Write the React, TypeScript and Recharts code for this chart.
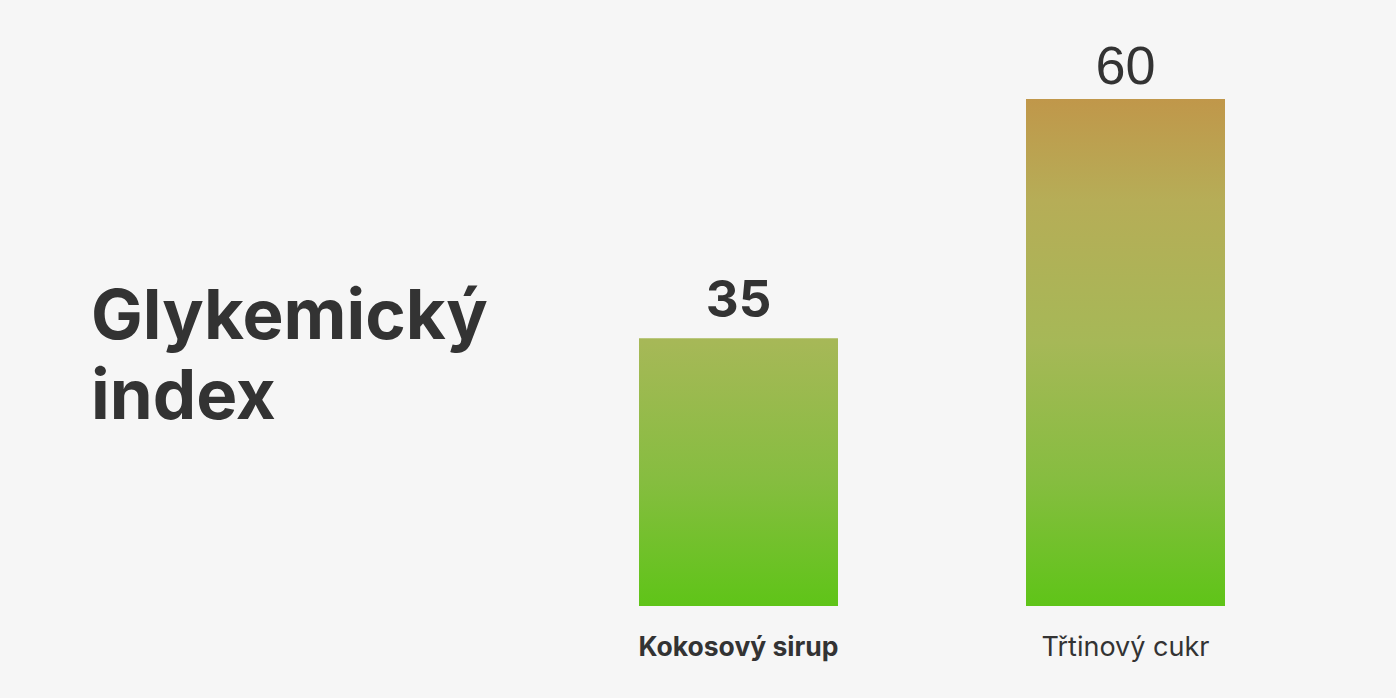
import React from 'react';
import { BarChart, Bar, XAxis, YAxis, LabelList } from 'recharts';

const categories = ['Kokosový sirup', 'Třtinový cukr'];
const glycemicValues = [35, 60];
const titleLines = ['Glykemický', 'index'];

const chartData = categories.map((name, i) => ({ name, gi: glycemicValues[i] }));

const INK = '#333333';

function CategoryTick({ x, y, payload, index }: any) {
  const bold = index === 0;
  return (
    <text
      x={x}
      y={y}
      dy={42}
      textAnchor="middle"
      fill={INK}
      fontFamily="Inter, 'Open Sans', sans-serif"
      fontWeight={bold ? 700 : 400}
      fontSize={bold ? 26.5 : 27}
    >
      {payload.value}
    </text>
  );
}

function ValueLabel({ x, y, width, value, index }: any) {
  const first = index === 0;
  return (
    <text
      x={x + width / 2}
      y={y}
      dy={first ? -21 : -15}
      textAnchor="middle"
      fill={INK}
      fontFamily={first ? "Inter, 'Open Sans', sans-serif" : "'Liberation Sans', Arial, sans-serif"}
      fontWeight={first ? 700 : 400}
      fontSize={first ? 51 : 54}
    >
      {value}
    </text>
  );
}

export default function App() {
  return (
    <div
      style={{
        position: 'fixed',
        left: 0,
        top: 0,
        width: 1396,
        height: 698,
        background: '#f6f6f6',
      }}
    >
      <div
        style={{
          position: 'absolute',
          left: 91,
          top: 274,
          fontFamily: "Inter, 'Open Sans', sans-serif",
          fontWeight: 700,
          fontSize: 69,
          lineHeight: '80px',
          color: INK,
        }}
      >
        {titleLines.map((line) => (
          <div key={line}>{line}</div>
        ))}
      </div>
      <BarChart
        width={1396}
        height={698}
        data={chartData}
        margin={{ top: 99, right: 77, left: 545, bottom: 0 }}
        barCategoryGap={94}
      >
        <defs>
          <linearGradient id="giFill" gradientUnits="userSpaceOnUse" x1="0" y1="99" x2="0" y2="606">
            <stop offset="0%" stopColor="#c0974a" />
            <stop offset="20%" stopColor="#b6ad57" />
            <stop offset="48%" stopColor="#a6b857" />
            <stop offset="75%" stopColor="#86bd40" />
            <stop offset="100%" stopColor="#5fc418" />
          </linearGradient>
        </defs>
        <XAxis
          dataKey="name"
          axisLine={false}
          tickLine={false}
          tick={<CategoryTick />}
          height={92}
        />
        <YAxis hide domain={[7, 60]} />
        <Bar dataKey="gi" fill="url(#giFill)" isAnimationActive={false}>
          <LabelList dataKey="gi" content={<ValueLabel />} />
        </Bar>
      </BarChart>
    </div>
  );
}
